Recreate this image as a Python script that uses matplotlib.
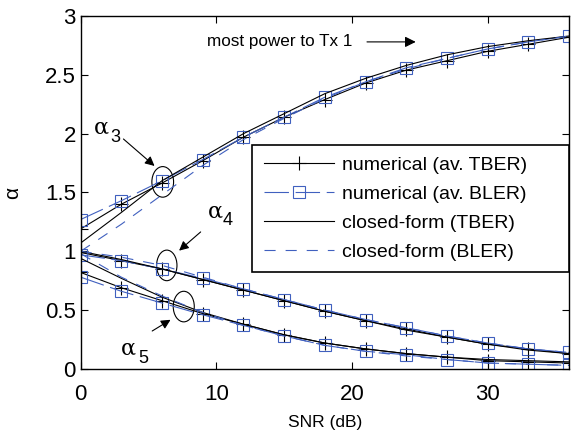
import matplotlib
matplotlib.use('Agg')
import matplotlib.pyplot as plt
from matplotlib.patches import Ellipse

####DATA
snr = [0, 3, 6, 9, 12, 15, 18, 21, 24, 27, 30, 33, 36]

# alpha_3
a3_num_tber = [1.19, 1.40, 1.58, 1.77, 1.97, 2.14, 2.29, 2.43, 2.54, 2.62, 2.70, 2.76, 2.82]
a3_num_bler = [1.27, 1.43, 1.60, 1.78, 1.97, 2.14, 2.31, 2.44, 2.56, 2.64, 2.72, 2.78, 2.83]
a3_cf_tber = [1.07, 1.33, 1.60, 1.80, 2.00, 2.17, 2.34, 2.47, 2.58, 2.67, 2.74, 2.79, 2.83]
a3_cf_bler = [1.00, 1.23, 1.48, 1.73, 1.95, 2.13, 2.30, 2.44, 2.55, 2.64, 2.72, 2.78, 2.83]

# alpha_4
a4_num_tber = [0.99, 0.92, 0.85, 0.76, 0.67, 0.58, 0.49, 0.41, 0.34, 0.27, 0.21, 0.17, 0.13]
a4_num_bler = [0.97, 0.92, 0.85, 0.77, 0.68, 0.59, 0.50, 0.42, 0.35, 0.28, 0.22, 0.17, 0.14]
a4_cf_tber = [1.00, 0.93, 0.85, 0.76, 0.67, 0.58, 0.49, 0.41, 0.33, 0.27, 0.21, 0.16, 0.13]
a4_cf_bler = [1.00, 0.95, 0.88, 0.78, 0.68, 0.59, 0.50, 0.42, 0.35, 0.28, 0.22, 0.17, 0.14]

# alpha_5
a5_num_tber = [0.82, 0.69, 0.58, 0.47, 0.38, 0.29, 0.22, 0.17, 0.13, 0.10, 0.07, 0.06, 0.05]
a5_num_bler = [0.78, 0.66, 0.56, 0.46, 0.37, 0.28, 0.20, 0.15, 0.12, 0.08, 0.05, 0.04, 0.03]
a5_cf_tber = [0.94, 0.77, 0.61, 0.48, 0.38, 0.29, 0.22, 0.17, 0.13, 0.10, 0.08, 0.07, 0.06]
a5_cf_bler = [0.98, 0.78, 0.62, 0.48, 0.37, 0.28, 0.20, 0.15, 0.11, 0.08, 0.05, 0.04, 0.03]

labels = ['numerical (av. TBER)', 'numerical (av. BLER)',
          'closed-form (TBER)', 'closed-form (BLER)']

####PLOTTING
plt.rcParams['font.family'] = ['Liberation Sans', 'DejaVu Sans']
blue = '#4060bf'

fig = plt.figure(figsize=(5.76, 4.33), dpi=100)
ax = fig.add_axes([0.140, 0.148, 0.848, 0.815])

groups = [(a3_num_tber, a3_num_bler, a3_cf_tber, a3_cf_bler),
          (a4_num_tber, a4_num_bler, a4_cf_tber, a4_cf_bler),
          (a5_num_tber, a5_num_bler, a5_cf_tber, a5_cf_bler)]

handles = None
for nt, nb, ct, cb in groups:
    h1, = ax.plot(snr, nt, color='k', lw=0.8, marker='+', ms=10, mew=0.8)
    h2, = ax.plot(snr, nb, color=blue, lw=0.8, dashes=(22, 6), marker='s',
                  ms=8, mew=0.8, mfc='none', mec=blue)
    h3, = ax.plot(snr, ct, color='k', lw=0.8)
    h4, = ax.plot(snr, cb, color=blue, lw=0.8, dashes=(10, 9))
    if handles is None:
        handles = [h1, h2, h3, h4]

ax.set_xlim(0, 36)
ax.set_ylim(0, 3)
ax.set_xticks([0, 10, 20, 30])
ax.set_yticks([0, 0.5, 1, 1.5, 2, 2.5, 3])
ax.set_yticklabels(['0', '0.5', '1', '1.5', '2', '2.5', '3'])
ax.tick_params(direction='in', top=True, right=True, length=5, width=0.8,
               labelsize=16)
ax.tick_params(axis='x', pad=11)
for s in ax.spines.values():
    s.set_linewidth(1.0)

ax.set_xlabel('SNR (dB)', fontsize=12.5, labelpad=7)
ax.set_ylabel('α', fontsize=15, labelpad=16)

leg = ax.legend(handles, labels, loc='upper left',
                bbox_to_anchor=(0.351, 0.272, 0.649, 0.363), mode='expand',
                borderaxespad=0, fontsize=14, numpoints=1, handlelength=3.6,
                handletextpad=0.4, labelspacing=0.58, borderpad=0.6,
                fancybox=False, framealpha=1, edgecolor='k')
leg.get_frame().set_linewidth(1.2)

# annotations
ax.text(9.3, 2.78, 'most power to Tx 1', fontsize=12.3, va='center', ha='left')
ax.annotate('', xy=(24.9, 2.78), xytext=(20.9, 2.78),
            arrowprops=dict(arrowstyle='-|>', color='k', lw=0.8,
                            mutation_scale=16))

ax.add_patch(Ellipse((6.05, 1.59), 1.6, 0.26, fill=False, ec='k', lw=0.8))
ax.add_patch(Ellipse((6.35, 0.88), 1.5, 0.26, fill=False, ec='k', lw=0.8))
ax.add_patch(Ellipse((7.6, 0.53), 1.55, 0.26, fill=False, ec='k', lw=0.8))

ax.annotate('', xy=(5.6, 1.71), xytext=(3.0, 1.97),
            arrowprops=dict(arrowstyle='-|>', color='k', lw=0.8, mutation_scale=14))
ax.annotate('', xy=(7.1, 0.99), xytext=(9.0, 1.18),
            arrowprops=dict(arrowstyle='-|>', color='k', lw=0.8, mutation_scale=14))
ax.annotate('', xy=(6.8, 0.43), xytext=(5.1, 0.31),
            arrowprops=dict(arrowstyle='-|>', color='k', lw=0.8, mutation_scale=14))

afont = ['DejaVu Serif', 'DejaVu Sans']
ax.text(1.5, 2.05, 'α', fontsize=16, ha='center', va='center', family=afont)
ax.text(2.55, 1.97, '3', fontsize=13, ha='center', va='center')
ax.text(9.9, 1.34, 'α', fontsize=16, ha='center', va='center', family=afont)
ax.text(10.8, 1.26, '4', fontsize=13, ha='center', va='center')
ax.text(3.55, 0.17, 'α', fontsize=16, ha='center', va='center', family=afont)
ax.text(4.6, 0.09, '5', fontsize=13, ha='center', va='center')

fig.savefig('out.png', dpi=100)
